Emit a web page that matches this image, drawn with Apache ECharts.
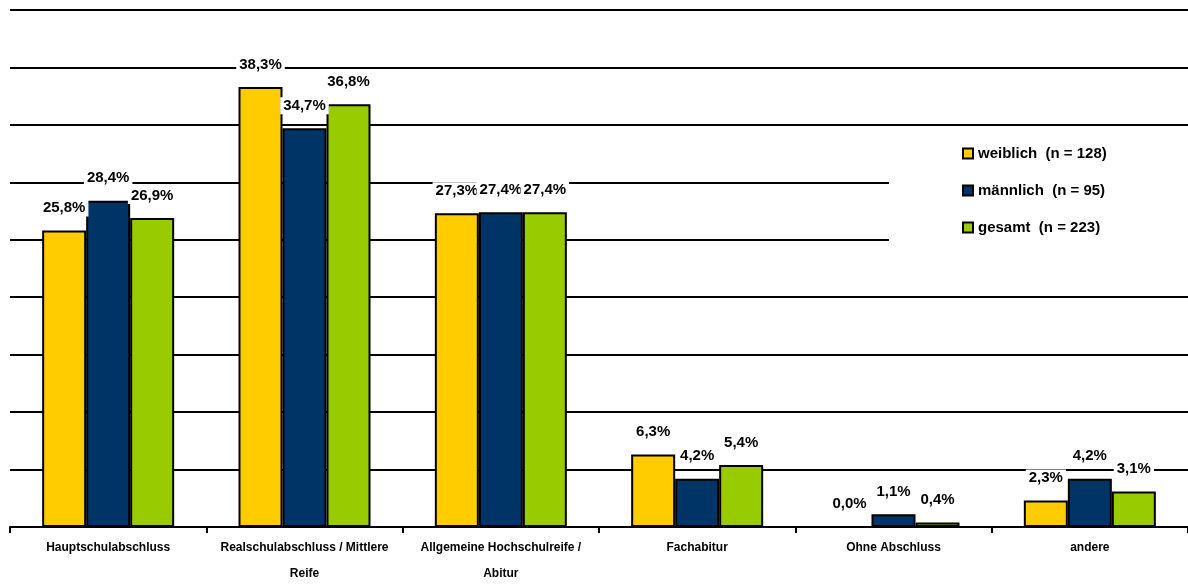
<!DOCTYPE html>
<html>
<head>
<meta charset="utf-8">
<script src="https://cdn.jsdelivr.net/npm/echarts@6/dist/echarts.min.js"></script>
<style>html,body{margin:0;padding:0;background:#fff}#c{width:1188px;height:587px}</style>
</head>
<body>
<div id="c"></div>
<script>
const categories = ['Hauptschulabschluss', 'Realschulabschluss / Mittlere\nReife', 'Allgemeine Hochschulreife /\nAbitur', 'Fachabitur', 'Ohne Abschluss', 'andere'];
const seriesNames = ['weiblich  (n = 128)', 'männlich  (n = 95)', 'gesamt  (n = 223)'];
const weiblich = [25.8, 38.3, 27.3, 6.3, 0.0, 2.3];
const maennlich = [28.4, 34.7, 27.4, 4.2, 1.1, 4.2];
const gesamt = [26.9, 36.8, 27.4, 5.4, 0.4, 3.1];

const colors = ['#FFCC00', '#003366', '#99CC00'];
const font = '"Liberation Sans", Arial, sans-serif';
const fmt = p => p.value.toFixed(1).replace('.', ',') + '%';

function mk(name, data, color) {
  return {
    name: name, type: 'bar', data: data, barWidth: 44, barGap: '0%',
    itemStyle: { color: color, borderColor: '#000', borderWidth: 2 },
    label: {
      show: true, position: 'top', distance: 14, formatter: fmt,
      fontFamily: font, fontWeight: 'bold', fontSize: 15, color: '#000',
      backgroundColor: '#fff', padding: [1, 3]
    }
  };
}

const chart = echarts.init(document.getElementById('c'));
chart.setOption({
  animation: false,
  backgroundColor: '#fff',
  grid: { left: 10, top: 10, width: 1180, height: 520, containLabel: false },
  legend: {
    orient: 'vertical', left: 889, top: 130,
    backgroundColor: '#fff', padding: [16, 90, 13, 73],
    icon: 'rect',
    itemWidth: 10, itemHeight: 10, itemGap: 22,
    textStyle: { fontFamily: font, fontWeight: 'bold', fontSize: 15, color: '#000' },
    data: seriesNames
  },
  xAxis: {
    type: 'category', data: categories,
    axisLine: { lineStyle: { color: '#000', width: 2 } },
    axisTick: { show: true, length: 6, lineStyle: { color: '#000', width: 2 } },
    axisLabel: { interval: 0, margin: 8, lineHeight: 26, fontFamily: font, fontWeight: 'bold', fontSize: 12, color: '#000' }
  },
  yAxis: {
    type: 'value', min: 0, max: 45, interval: 5,
    axisLabel: { show: false }, axisLine: { show: false }, axisTick: { show: false },
    splitLine: { lineStyle: { color: '#000', width: 2 } }
  },
  series: [
    mk(seriesNames[0], weiblich, colors[0]),
    mk(seriesNames[1], maennlich, colors[1]),
    mk(seriesNames[2], gesamt, colors[2])
  ]
});
</script>
</body>
</html>
